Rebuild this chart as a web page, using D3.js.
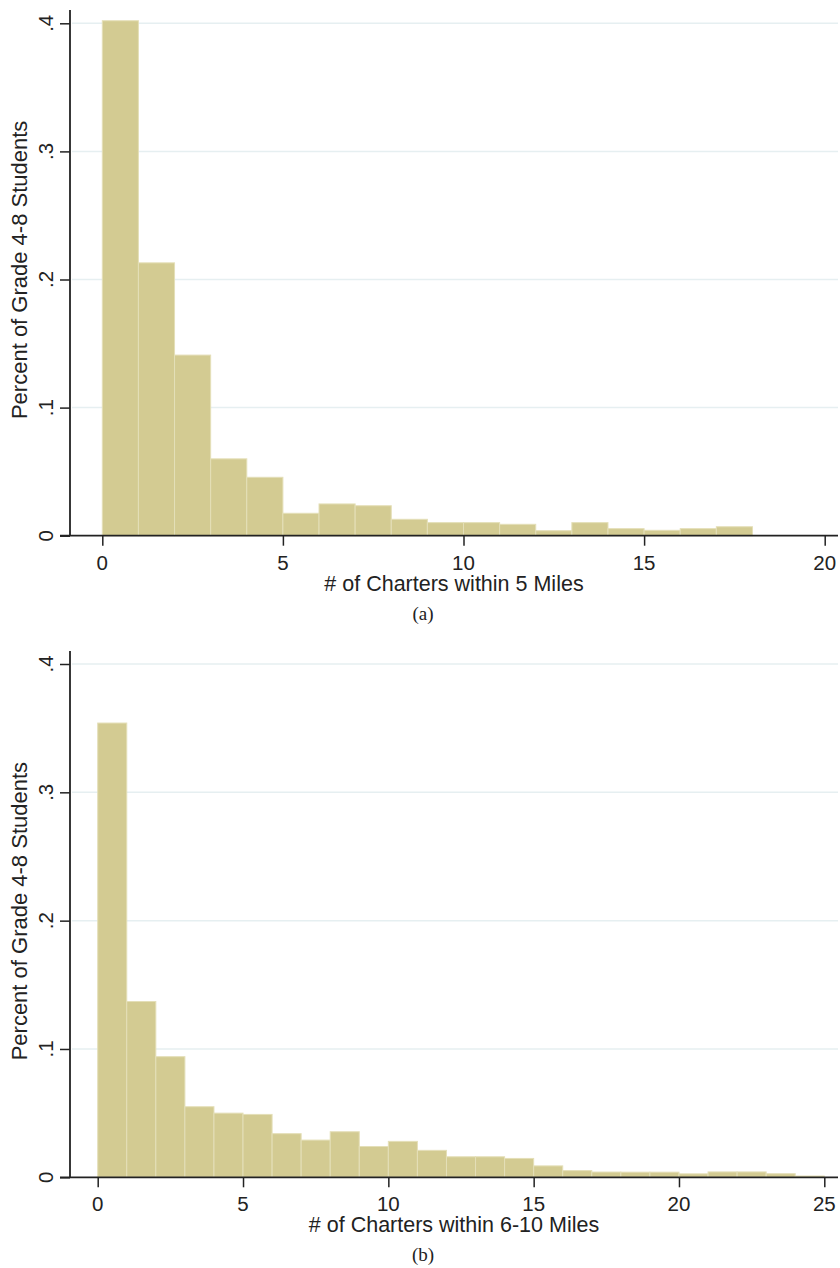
<!DOCTYPE html>
<html>
<head>
<meta charset="utf-8">
<script src="https://cdn.jsdelivr.net/npm/d3@7"></script>
<style>
  html, body { margin: 0; padding: 0; background: #fff; }
  svg { display: block; }
  text { font-family: "Liberation Sans", Arial, Helvetica, sans-serif; fill: #222; }
  .cap { font-family: "Liberation Serif", "Times New Roman", serif; }
</style>
</head>
<body>
<svg id="chart" width="840" height="1268"></svg>
<script>
// ---- Data ----
// Panel (a): share of students by # of charters within 5 miles (bins of width 1, starting at 0)
const binStartA = [0,1,2,3,4,5,6,7,8,9,10,11,12,13,14,15,16,17];
const valuesA = [0.402, 0.213, 0.141, 0.060, 0.0456, 0.0175, 0.0248, 0.0234, 0.0128, 0.0102,
                 0.0102, 0.0089, 0.0039, 0.0102, 0.0055, 0.0042, 0.0055, 0.0070];
const xTicksA = [0, 5, 10, 15, 20];

// Panel (b): share of students by # of charters within 6-10 miles
const binStartB = [0,1,2,3,4,5,6,7,8,9,10,11,12,13,14,15,16,17,18,19,20,21,22,23,24];
const valuesB = [0.354, 0.137, 0.094, 0.055, 0.050, 0.049, 0.034, 0.029, 0.0355, 0.024,
                 0.028, 0.021, 0.016, 0.016, 0.0147, 0.0089, 0.0052, 0.0041, 0.0040, 0.0040,
                 0.0027, 0.0042, 0.0042, 0.0028, 0.0010];
const xTicksB = [0, 5, 10, 15, 20, 25];

const yTicks = [0, 0.1, 0.2, 0.3, 0.4];
const yTickLabels = ["0", ".1", ".2", ".3", ".4"];
const yTitle = "Percent of Grade 4-8 Students";
const xTitleA = "# of Charters within 5 Miles";
const xTitleB = "# of Charters within 6-10 Miles";
const captionA = "(a)";
const captionB = "(b)";

const svg = d3.select("#chart");

function panel(cfg) {
  const g = svg.append("g");
  const x = d3.scaleLinear().domain(cfg.xDomain).range(cfg.xRange);
  const y = d3.scaleLinear().domain([0, 0.4]).range(cfg.yRange);
  const axisX = 70, rightX = 838;

  // gridlines
  g.append("g").selectAll("line").data(yTicks.filter(d => d > 0)).join("line")
    .attr("x1", axisX + 2).attr("x2", rightX)
    .attr("y1", d => y(d)).attr("y2", d => y(d))
    .attr("stroke", "#e6eff1").attr("stroke-width", 1.5);

  // bars
  const data = cfg.starts.map((s, i) => ({ s, v: cfg.values[i] }));
  g.append("g").selectAll("rect").data(data).join("rect")
    .attr("x", d => x(d.s))
    .attr("width", d => x(d.s + 1) - x(d.s))
    .attr("y", d => y(d.v))
    .attr("height", d => y(0) - y(d.v))
    .attr("fill", "#d3cb92")
    .attr("stroke", "#e4dfb8").attr("stroke-width", 1);

  // y axis
  const yAxis = d3.axisLeft(y).tickValues(yTicks)
    .tickFormat((d, i) => yTickLabels[i]).tickSize(10).tickPadding(0);
  const ya = g.append("g").attr("transform", `translate(${axisX},0)`).call(yAxis);
  ya.select(".domain").remove();
  ya.selectAll(".tick line").attr("stroke", "#222").attr("stroke-width", 1.5);
  ya.selectAll(".tick text").remove();
  g.append("line").attr("x1", axisX).attr("x2", axisX)
    .attr("y1", cfg.yTop).attr("y2", y(0)).attr("stroke", "#222").attr("stroke-width", 1.8);
  g.append("g").selectAll("text").data(yTicks).join("text")
    .attr("transform", d => `translate(53,${y(d)}) rotate(-90)`)
    .attr("text-anchor", "middle")
    .attr("font-size", 20.5)
    .text((d, i) => yTickLabels[i]);

  // x axis
  const xAxis = d3.axisBottom(x).tickValues(cfg.xTicks).tickFormat(d3.format("d"))
    .tickSize(10).tickPadding(0);
  const xa = g.append("g").attr("transform", `translate(0,${y(0)})`).call(xAxis);
  xa.select(".domain").remove();
  xa.selectAll(".tick line").attr("stroke", "#222").attr("stroke-width", 1.5);
  xa.selectAll(".tick text").remove();
  g.append("line").attr("x1", axisX - 10).attr("x2", rightX)
    .attr("y1", y(0)).attr("y2", y(0)).attr("stroke", "#222").attr("stroke-width", 1.8);
  g.append("g").selectAll("text").data(cfg.xTicks).join("text")
    .attr("x", d => x(d)).attr("y", y(0) + 34)
    .attr("text-anchor", "middle").attr("font-size", 20.5)
    .text(d => d3.format("d")(d));

  // titles
  g.append("text")
    .attr("x", (axisX + rightX) / 2).attr("y", y(0) + 55)
    .attr("text-anchor", "middle").attr("font-size", 21.5)
    .text(cfg.xTitle);
  const yMid = (cfg.yTop + y(0)) / 2 - 3;
  g.append("text")
    .attr("transform", `translate(27,${yMid}) rotate(-90)`)
    .attr("text-anchor", "middle").attr("font-size", 22)
    .text(yTitle);
  g.append("text").attr("class", "cap")
    .attr("x", 423).attr("y", cfg.capY)
    .attr("text-anchor", "middle").attr("font-size", 19)
    .text(cfg.caption);
}

panel({
  starts: binStartA, values: valuesA, xTicks: xTicksA,
  xDomain: [0, 20], xRange: [102.3, 824.7],
  yRange: [535.7, 23.3], yTop: 10,
  xTitle: xTitleA, caption: captionA, capY: 620
});

panel({
  starts: binStartB, values: valuesB, xTicks: xTicksB,
  xDomain: [0, 25], xRange: [97.7, 824.3],
  yRange: [1177.3, 664], yTop: 651,
  xTitle: xTitleB, caption: captionB, capY: 1261
});
</script>
</body>
</html>
